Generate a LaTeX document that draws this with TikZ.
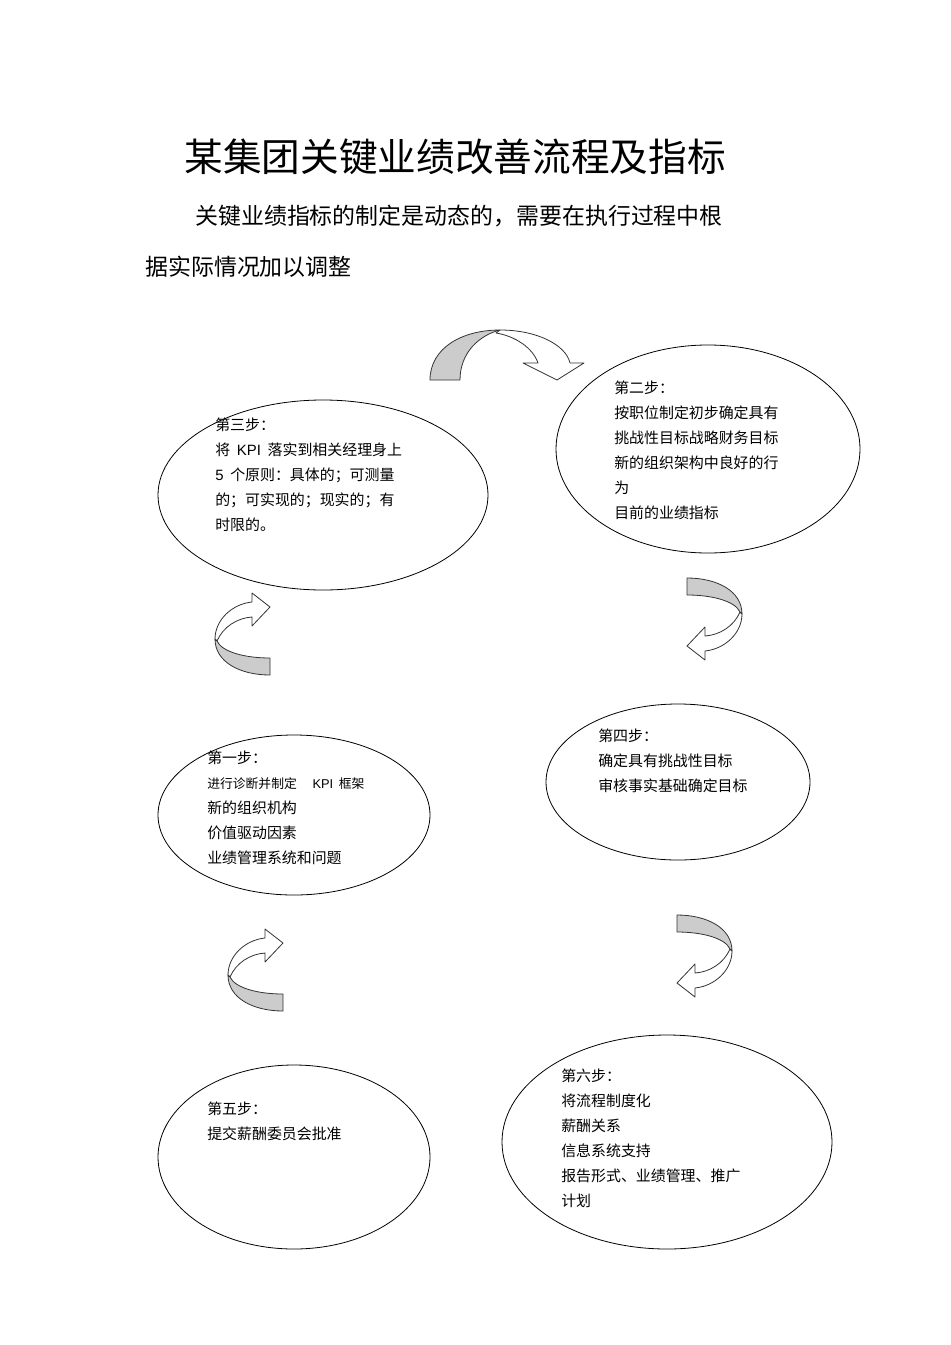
\documentclass[tikz,border=0pt]{standalone}
\usepackage{fontspec}
\usepackage{tikz}
\usetikzlibrary{shapes.geometric}
\setmainfont{Noto Sans CJK SC}
\newfontfamily\latinfont{Liberation Sans}
\definecolor{bandgray}{gray}{0.80}
\definecolor{edgegray}{gray}{0.20}

\tikzset{
  stepell/.style={ellipse,draw=black,line width=0.6pt,inner sep=0pt},
  steptext/.style={anchor=north west,inner sep=0pt,align=left,
    font=\fontsize{11.2}{18.75}\selectfont},
  arrline/.style={draw=edgegray,line width=0.6pt,line join=round},
  bendarrow/.pic={
    \draw[arrline,fill=white] (-18,-5) -- (-18,-14) -- (0,0) -- (-18,19) -- (-18,10)
      .. controls (-33,11) and (-47,20) .. (-53,34) -- (-55,32)
      .. controls (-55,13) and (-38,-3) .. (-18,-5) -- cycle;
    \draw[arrline,fill=bandgray] (-55,32) .. controls (-55,55) and (-30,68) .. (0,68)
      -- (0,51) .. controls (-25,51) and (-48,45) .. (-53,34) -- cycle;
  }
}

\begin{document}
\begin{tikzpicture}[x=0.75pt,y=-0.75pt]
  \useasboundingbox (0,0) rectangle (950,1345);
  % title and intro
  \node (title) at (455,157) {\fontsize{29}{34}\selectfont 某集团关键业绩改善流程及指标};
  \node[anchor=west,inner sep=0pt] (intro1) at (195,216)
    {\fontsize{17.2}{20}\selectfont 关键业绩指标的制定是动态的，需要在执行过程中根};
  \node[anchor=west,inner sep=0pt] (intro2) at (145,267)
    {\fontsize{17.2}{20}\selectfont 据实际情况加以调整};
  % the six steps
  \node[stepell,minimum width=247.5pt,minimum height=142.5pt] (s3) at (323,495) {};
  \node[stepell,minimum width=228pt,minimum height=156pt] (s2) at (708,449) {};
  \node[stepell,minimum width=204pt,minimum height=120pt] (s1) at (294,815) {};
  \node[stepell,minimum width=198pt,minimum height=117pt] (s4) at (678,782) {};
  \node[stepell,minimum width=204pt,minimum height=138pt] (s5) at (294,1157) {};
  \node[stepell,minimum width=247.5pt,minimum height=160.5pt] (s6) at (667,1142) {};
  \node[steptext] (t3) at (215,418) {第三步：\\
    将 \ {\latinfont KPI} \ 落实到相关经理身上\\
    {\latinfont 5} \ 个原则：具体的；可测量\\
    的；可实现的；现实的；有\\
    时限的。};
  \node[steptext] (t2) at (614,381) {第二步：\\
    按职位制定初步确定具有\\
    挑战性目标战略财务目标\\
    新的组织架构中良好的行\\
    为\\
    目前的业绩指标};
  \node[steptext] (t1) at (207,751) {第一步：\\
    {\fontsize{9.6}{18.75}\selectfont 进行诊断并制定\quad\ {\latinfont KPI} \ 框架}\\
    新的组织机构\\
    价值驱动因素\\
    业绩管理系统和问题};
  \node[steptext] (t4) at (598,729) {第四步：\\
    确定具有挑战性目标\\
    审核事实基础确定目标};
  \node[steptext] (t5) at (207,1102) {第五步：\\
    提交薪酬委员会批准};
  \node[steptext] (t6) at (561,1069) {第六步：\\
    将流程制度化\\
    薪酬关系\\
    信息系统支持\\
    报告形式、业绩管理、推广\\
    计划};
  % curved arrows
  \draw[arrline,fill=white] (500,330) .. controls (537,330) and (566,345) .. (570,363)
    -- (584,363) -- (557,380) -- (523,363) -- (538,363)
    .. controls (533,348) and (515,336) .. (496,333) -- cycle;
  \draw[arrline,fill=bandgray] (430,380) .. controls (430,348) and (462,330) .. (500,330)
    .. controls (480,335) and (460,352) .. (460,380) -- cycle;
  \pic at (270,607) {bendarrow};
  \pic at (283,943) {bendarrow};
  \pic[rotate=180] at (687,646) {bendarrow};
  \pic[rotate=180] at (677,983) {bendarrow};
\end{tikzpicture}
\end{document}
